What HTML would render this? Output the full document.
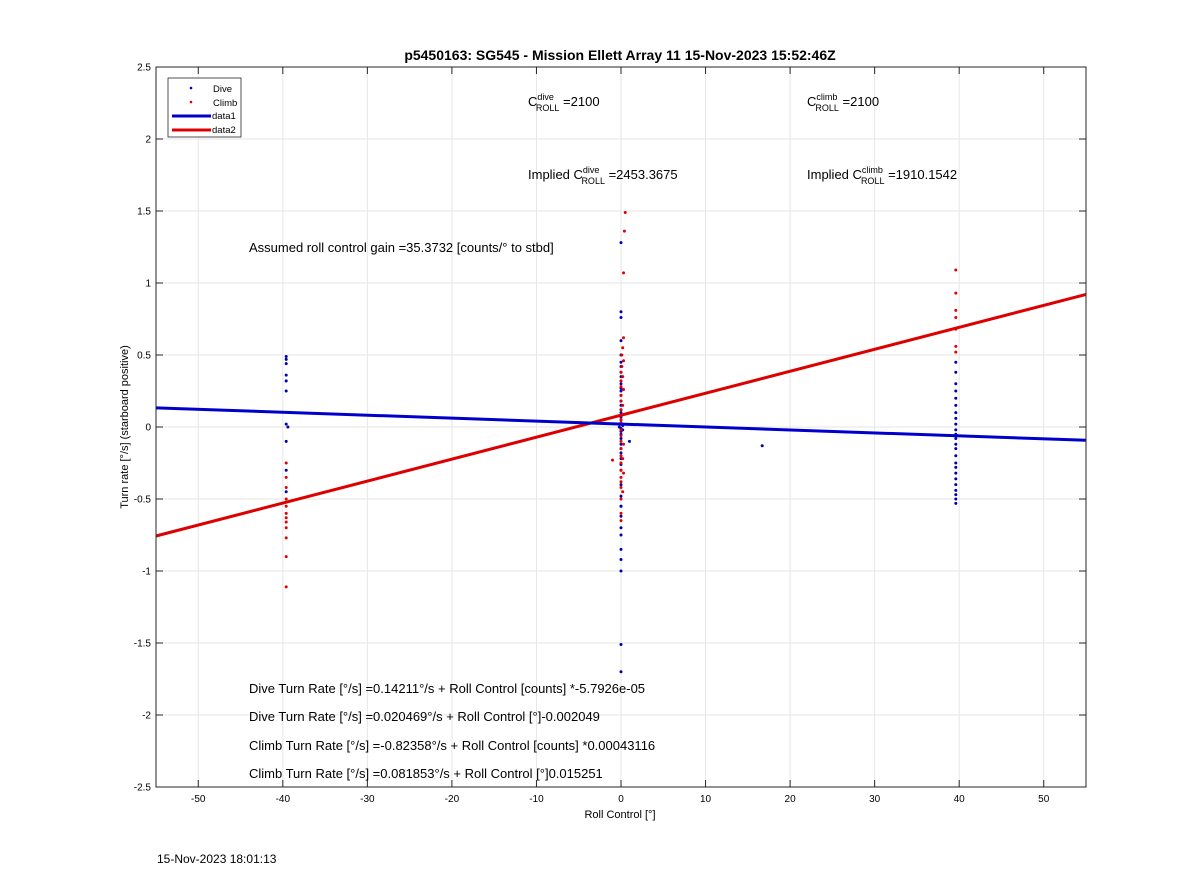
<!DOCTYPE html>
<html><head><meta charset="utf-8"><style>
body{margin:0;background:#fff;font-family:"Liberation Sans",Arial,sans-serif}
svg text{font-family:"Liberation Sans",Arial,sans-serif}
</style></head><body>
<svg id="chart" width="1200" height="885" xmlns="http://www.w3.org/2000/svg">
<rect width="1200" height="885" fill="#fff"/>
<text x="620" y="60" font-size="14" font-weight="bold" text-anchor="middle">p5450163: SG545 - Mission Ellett Array 11 15-Nov-2023 15:52:46Z</text>
<g id="grid"></g>
<g id="ticks"></g>
<g id="marks"></g>
<rect x="156" y="67" width="930" height="720" fill="none" stroke="#262626" stroke-width="1"/>
<text x="620" y="818" font-size="11" text-anchor="middle">Roll Control [°]</text>
<text transform="translate(128,427) rotate(-90)" font-size="11" text-anchor="middle">Turn rate [°/s] (starboard positive)</text>
<g font-size="13">
<text x="528" y="106">C<tspan font-size="9" dy="-6">dive</tspan><tspan font-size="9" dx="-18" dy="11">ROLL</tspan><tspan dy="-5"> =2100</tspan></text>
<text x="807" y="106">C<tspan font-size="9" dy="-6">climb</tspan><tspan font-size="9" dx="-22" dy="11">ROLL</tspan><tspan dy="-5"> =2100</tspan></text>
<text x="528" y="179">Implied C<tspan font-size="9" dy="-6">dive</tspan><tspan font-size="9" dx="-18" dy="11">ROLL</tspan><tspan dy="-5"> =2453.3675</tspan></text>
<text x="807" y="179">Implied C<tspan font-size="9" dy="-6">climb</tspan><tspan font-size="9" dx="-22" dy="11">ROLL</tspan><tspan dy="-5"> =1910.1542</tspan></text>
<text x="249" y="252">Assumed roll control gain =35.3732 [counts/° to stbd]</text>
<text x="249" y="693">Dive Turn Rate [°/s] =0.14211°/s + Roll Control [counts] *-5.7926e-05</text>
<text x="249" y="721">Dive Turn Rate [°/s] =0.020469°/s + Roll Control [°]-0.002049</text>
<text x="249" y="750">Climb Turn Rate [°/s] =-0.82358°/s + Roll Control [counts] *0.00043116</text>
<text x="249" y="778">Climb Turn Rate [°/s] =0.081853°/s + Roll Control [°]0.015251</text>
</g>
<g>
<rect x="168" y="78" width="73" height="59" fill="#fff" stroke="#262626" stroke-width="0.8"/>
<circle cx="191" cy="88" r="1.3" fill="#0000b0"/><text x="213" y="92" font-size="9.5">Dive</text>
<circle cx="191" cy="102" r="1.3" fill="#e00000"/><text x="213" y="106" font-size="9.5">Climb</text>
<line x1="172" y1="116" x2="211" y2="116" stroke="#0000cc" stroke-width="3"/><text x="212" y="119" font-size="9.5">data1</text>
<line x1="172" y1="130" x2="211" y2="130" stroke="#dd0000" stroke-width="3"/><text x="212" y="133" font-size="9.5">data2</text>
</g>
<text x="157" y="863" font-size="12">15-Nov-2023 18:01:13</text>
</svg>
<script>
const xTicks=[-50,-40,-30,-20,-10,0,10,20,30,40,50];
const yTicks=[-2.5,-2,-1.5,-1,-0.5,0,0.5,1,1.5,2,2.5];
const diveX=[-39.6,-39.6,-39.6,-39.6,-39.6,-39.6,-39.6,-39.6,-39.4,-39.6,-39.6,0,0,0,0,0,0,0,0,0,0,0,0,0,0,0,0,0,0,0,0,0,0,0,0,0,0,0,0,0,0,0,0,1,16.7,39.6,39.6,39.6,39.6,39.6,39.6,39.6,39.6,39.6,39.6,39.6,39.6,39.6,39.6,39.6,39.6,39.6,39.6,39.6,39.6,39.6,39.6,39.6,39.6,0,0,0,0,0,0,0,0,0,0,0.2,-0.2,0.2,-0.2];
const diveY=[0.49,0.47,0.44,0.36,0.32,0.25,0.02,-0.1,0,-0.3,-0.45,1.28,0.8,0.76,0.6,0.45,0.38,0.3,0.22,0.15,0.1,0.05,0.02,-0.01,-0.03,-0.08,-0.15,-0.22,-0.3,-0.4,-0.48,-0.55,-0.62,-0.7,-0.75,-0.85,-0.92,-1.0,-1.51,-1.7,0.5,0.25,-0.55,-0.1,-0.13,0.45,0.38,0.3,0.25,0.2,0.15,0.1,0.06,0.02,-0.02,-0.05,-0.08,-0.12,-0.15,-0.2,-0.25,-0.28,-0.32,-0.36,-0.4,-0.44,-0.47,-0.5,-0.53,0.42,0.35,0.27,0.18,0.12,0.07,-0.05,-0.12,-0.18,-0.26,0.01,0.0,-0.02,0.02];
const climbX=[-39.6,-39.6,-39.6,-39.6,-39.6,-39.6,-39.6,-39.6,-39.6,-39.6,-39.6,-39.6,0.5,0.4,0.3,0.3,0.2,0.1,0.1,0,0,0,0,0,0,0,0,0,0,0,0,0,0,0,0,0,0,0,0,0,0,-1,39.6,39.6,39.6,39.6,39.6,39.6,39.6,0.3,0.2,0.3,0.2,0.3,0.2,0.3,0.2];
const climbY=[-0.25,-0.35,-0.42,-0.5,-0.55,-0.6,-0.63,-0.66,-0.7,-0.77,-0.9,-1.11,1.49,1.36,1.07,0.62,0.55,0.5,0.42,0.38,0.32,0.28,0.22,0.18,0.12,0.08,0.05,0.03,-0.02,-0.06,-0.1,-0.15,-0.2,-0.25,-0.3,-0.35,-0.38,-0.42,-0.5,-0.6,-0.65,-0.23,1.09,0.93,0.81,0.76,0.68,0.56,0.52,0.46,0.35,0.26,0.15,-0.12,-0.22,-0.32,-0.45];
const diveFit=[0.020469,-0.002049];
const climbFit=[0.081853,0.015251];
const NS="http://www.w3.org/2000/svg";
const X=v=>156+(v+55)/110*930, Y=v=>427-v*144;
function mk(tag,attrs,parent){const e=document.createElementNS(NS,tag);for(const k in attrs)e.setAttribute(k,attrs[k]);document.getElementById(parent).appendChild(e);return e;}
xTicks.forEach(t=>{
 const g=mk('line',{x1:X(t),x2:X(t),y1:67,y2:787,stroke:'#e6e6e6'},'grid');
 
 
 mk('line',{x1:X(t),x2:X(t),y1:787,y2:780,stroke:'#262626'},'ticks');
 mk('line',{x1:X(t),x2:X(t),y1:67,y2:74,stroke:'#262626'},'ticks');
 const tx=mk('text',{x:X(t),y:802,'font-size':10,'text-anchor':'middle'},'ticks');tx.textContent=t;
 
 
});
yTicks.forEach(t=>{
 const g=mk('line',{x1:156,x2:1086,y1:Y(t),y2:Y(t),stroke:'#e6e6e6'},'grid');
 
 
 mk('line',{x1:156,x2:163,y1:Y(t),y2:Y(t),stroke:'#262626'},'ticks');
 mk('line',{x1:1079,x2:1086,y1:Y(t),y2:Y(t),stroke:'#262626'},'ticks');
 const tx=mk('text',{x:151,y:Y(t)+3.5,'font-size':10,'text-anchor':'end'},'ticks');tx.textContent=t;
 
 
});
function fit(c,col,name){const l=mk('line',{x1:X(-55),y1:Y(c[0]+c[1]*-55),x2:X(55),y2:Y(c[0]+c[1]*55),stroke:col,'stroke-width':3},'marks');
 
 }
diveX.forEach((x,i)=>{const c=mk('circle',{cx:X(x),cy:Y(diveY[i]),r:1.5,fill:'#0000b0'},'marks');
 
 });
climbX.forEach((x,i)=>{const c=mk('circle',{cx:X(x),cy:Y(climbY[i]),r:1.5,fill:'#e00000'},'marks');
 
 });
fit(climbFit,'#dd0000','climb-fit-line');
fit(diveFit,'#0000cc','dive-fit-line');
</script>
</body></html>
